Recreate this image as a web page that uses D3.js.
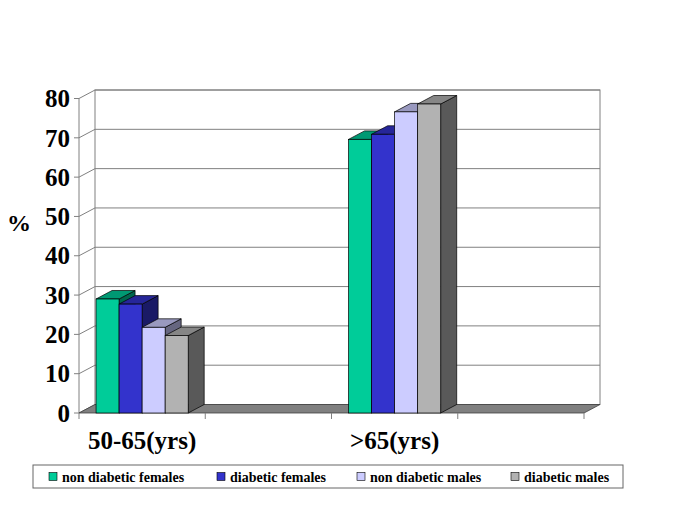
<!DOCTYPE html>
<html>
<head>
<meta charset="utf-8">
<script src="https://cdn.jsdelivr.net/npm/d3@7"></script>
<style>
  html, body { margin: 0; padding: 0; background: #fff; }
  svg { display: block; }
  text { font-family: "Liberation Serif", "Times New Roman", serif; font-weight: bold; fill: #000; }
</style>
</head>
<body>
<svg id="chart" width="685" height="513"></svg>
<script>
// ---- data ----
const categories = ["50-65(yrs)", "", ">65(yrs)", ""];
const seriesNames = ["non diabetic females", "diabetic females", "non diabetic males", "diabetic males"];
const nonDiabeticFemales = [29, null, 69.6, null];
const diabeticFemales    = [27.7, null, 70.9, null];
const nonDiabeticMales   = [21.8, null, 76.6, null];
const diabeticMales      = [19.7, null, 78.6, null];
const yTicks = [0, 10, 20, 30, 40, 50, 60, 70, 80];
const colors = ["#00CC99", "#3333CC", "#CCCCFF", "#B2B2B2"];

const seriesValues = [nonDiabeticFemales, diabeticFemales, nonDiabeticMales, diabeticMales];

// ---- layout ----
const svg = d3.select("#chart");
const DX = 16, DY = -8.5;
const y = d3.scaleLinear().domain([0, 80]).range([413, 98.5]);
const x0 = d3.scaleBand().domain(d3.range(categories.length)).range([79, 584]).padding(0);
const x1 = d3.scaleBand().domain(d3.range(seriesNames.length)).range([0, x0.bandwidth()])
  .paddingInner(0).paddingOuter(0.74);

const xL = x0.range()[0], xR = x0.range()[1];
const gridColor = "#808080";

// back wall
svg.append("rect")
  .attr("x", xL + DX).attr("y", y(80) + DY)
  .attr("width", xR - xL).attr("height", y(0) - y(80))
  .attr("fill", "#fff").attr("stroke", gridColor).attr("stroke-width", 1);

// back wall grid lines
svg.append("g").selectAll("line").data(yTicks.filter(d => d > 0)).join("line")
  .attr("x1", xL + DX).attr("x2", xR + DX)
  .attr("y1", d => y(d) + DY).attr("y2", d => y(d) + DY)
  .attr("stroke", gridColor).attr("stroke-width", 1);

// side wall grid lines
svg.append("g").selectAll("line").data(yTicks).join("line")
  .attr("x1", xL).attr("x2", xL + DX)
  .attr("y1", d => y(d)).attr("y2", d => y(d) + DY)
  .attr("stroke", gridColor).attr("stroke-width", 1);

// front vertical axis line
svg.append("line").attr("x1", xL).attr("x2", xL).attr("y1", y(0)).attr("y2", y(80))
  .attr("stroke", gridColor).attr("stroke-width", 1);

// floor
svg.append("polygon")
  .attr("points", [[xL, y(0)], [xR, y(0)], [xR + DX, y(0) + DY], [xL + DX, y(0) + DY]].map(p => p.join(",")).join(" "))
  .attr("fill", "#808080").attr("stroke", "#404040").attr("stroke-width", 0.8);

// y ticks and labels
svg.append("g").selectAll("line").data(yTicks).join("line")
  .attr("x1", xL - 5).attr("x2", xL)
  .attr("y1", d => y(d)).attr("y2", d => y(d))
  .attr("stroke", gridColor).attr("stroke-width", 1);
svg.append("g").selectAll("text").data(yTicks).join("text")
  .attr("x", 70).attr("y", d => y(d) + 8.7)
  .attr("text-anchor", "end").attr("font-size", 25)
  .text(d => d);

// % label
svg.append("text").attr("x", 19).attr("y", 231).attr("text-anchor", "middle")
  .attr("font-size", 24).text("%");

// x ticks
const xTickPos = d3.range(categories.length + 1).map(i => xL + i * x0.step());
svg.append("g").selectAll("line").data(xTickPos).join("line")
  .attr("x1", d => d).attr("x2", d => d)
  .attr("y1", y(0)).attr("y2", y(0) + 6)
  .attr("stroke", gridColor).attr("stroke-width", 1);

// x labels
svg.append("g").selectAll("text").data(categories).join("text")
  .attr("x", (d, i) => x0(i) + x0.bandwidth() / 2)
  .attr("y", 449)
  .attr("text-anchor", "middle").attr("font-size", 25)
  .text(d => d);

// bars (3D)
const shade = (c, k) => { const r = d3.rgb(c); return d3.rgb(r.r * k, r.g * k, r.b * k).toString(); };
const barG = svg.append("g");
categories.forEach((cat, ci) => {
  seriesValues.forEach((vals, si) => {
    const v = vals[ci];
    if (v == null) return;
    const bx = x0(ci) + x1(si);
    const bw = x1.bandwidth();
    const top = y(v), bot = y(0);
    const col = colors[si];
    // side
    barG.append("polygon")
      .attr("points", [[bx + bw, bot], [bx + bw + DX, bot + DY], [bx + bw + DX, top + DY], [bx + bw, top]].map(p => p.join(",")).join(" "))
      .attr("fill", shade(col, 0.5)).attr("stroke", "#000").attr("stroke-width", 0.7);
    // top
    barG.append("polygon")
      .attr("points", [[bx, top], [bx + bw, top], [bx + bw + DX, top + DY], [bx + DX, top + DY]].map(p => p.join(",")).join(" "))
      .attr("fill", shade(col, 0.75)).attr("stroke", "#000").attr("stroke-width", 0.7);
    // front
    barG.append("rect")
      .attr("x", bx).attr("y", top).attr("width", bw).attr("height", bot - top)
      .attr("fill", col).attr("stroke", "#000").attr("stroke-width", 0.7);
  });
});

// legend
const legend = svg.append("g");
legend.append("rect").attr("x", 33).attr("y", 465).attr("width", 590).attr("height", 23)
  .attr("fill", "#fff").attr("stroke", "#666").attr("stroke-width", 1);
const legendX = [49, 217, 357, 511];
seriesNames.forEach((name, i) => {
  legend.append("rect").attr("x", legendX[i]).attr("y", 472.5).attr("width", 8).attr("height", 8)
    .attr("fill", colors[i]).attr("stroke", "#000").attr("stroke-width", 0.6);
  legend.append("text").attr("x", legendX[i] + 13).attr("y", 481.5)
    .attr("font-size", 14).text(name);
});
</script>
</body>
</html>
